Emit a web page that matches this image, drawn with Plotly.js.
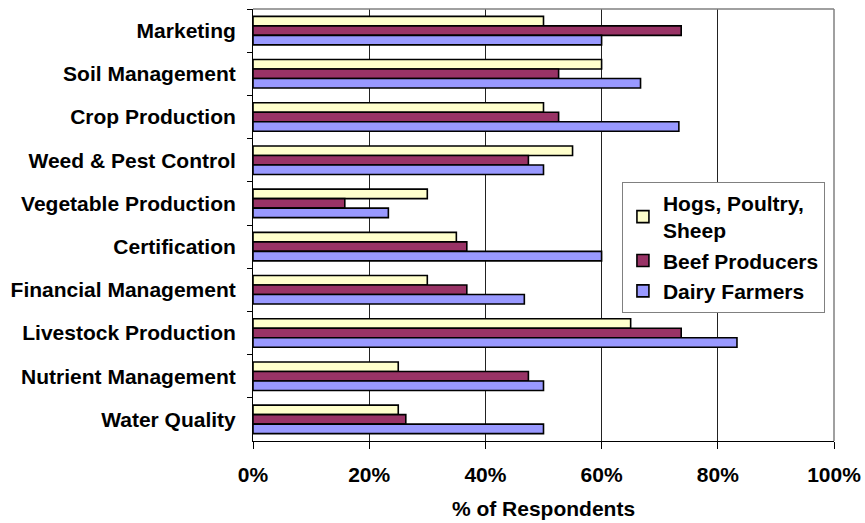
<!DOCTYPE html>
<html>
<head>
<meta charset="utf-8">
<script src="https://cdn.plot.ly/plotly-3.0.1.min.js"></script>
<style>html,body{margin:0;padding:0;background:#fff;}#chart{width:865px;height:523px;}</style>
</head>
<body>
<div id="chart"></div>
<script>
const categories = ["Marketing","Soil Management","Crop Production","Weed & Pest Control","Vegetable Production","Certification","Financial Management","Livestock Production","Nutrient Management","Water Quality"];
const seriesNames = ["Hogs, Poultry,<br>Sheep","Beef Producers","Dairy Farmers"];
const hogs  = [50, 60, 50, 55, 30, 35, 30, 65, 25, 25];
const beef  = [73.7, 52.6, 52.6, 47.4, 15.8, 36.8, 36.8, 73.7, 47.4, 26.3];
const dairy = [60, 66.7, 73.3, 50, 23.3, 60, 46.7, 83.3, 50, 50];
const xTicks = [0, 20, 40, 60, 80, 100];
const xTickText = ["0%","20%","40%","60%","80%","100%"];
const colors = ["#FFFFCC","#993366","#9999FF"];

const fam = "Liberation Sans, Arial, sans-serif";
const boldFont = {family: fam, size: 21, color: "#000", weight: "bold"};
const values = [hogs, beef, dairy];
const traces = values.map((v, i) => ({
  type: "bar", orientation: "h", name: seriesNames[i],
  x: v, y: categories,
  marker: {color: colors[i], line: {color: "#000", width: 1.6}},
  hoverinfo: "x+y"
}));

const layout = {
  width: 865, height: 523,
  margin: {l: 253, r: 31, t: 9, b: 82},
  paper_bgcolor: "#fff", plot_bgcolor: "#fff",
  font: {family: fam, size: 21, color: "#000"},
  barmode: "group", bargap: 0.34, bargroupgap: 0,
  showlegend: true,
  legend: {
    x: 0.635, y: 0.60, xanchor: "left", yanchor: "top",
    bgcolor: "#fff", bordercolor: "#808080", borderwidth: 1,
    font: boldFont, traceorder: "normal", itemwidth: 30
  },
  xaxis: {
    range: [0, 100], tickvals: xTicks, ticktext: xTickText,
    showgrid: true, gridcolor: "#222", gridwidth: 1,
    showline: true, linecolor: "#000", linewidth: 1,
    ticks: "outside", ticklen: 7, tickcolor: "#000",
    ticklabelstandoff: 8,
    tickfont: boldFont,
    zeroline: false, fixedrange: true,
    title: {text: "% of Respondents", standoff: 16, font: boldFont}
  },
  yaxis: {
    autorange: "reversed", type: "category",
    showgrid: false, showline: true, linecolor: "#000", linewidth: 1,
    ticks: "outside", tickson: "boundaries", ticklen: 5, tickcolor: "#000",
    ticklabelstandoff: 12,
    tickfont: boldFont,
    zeroline: false, fixedrange: true
  },
  shapes: [
    {type: "line", xref: "paper", yref: "paper", x0: 0, x1: 1, y0: 1, y1: 1, line: {color: "#808080", width: 1.5}, layer: "above"},
    {type: "line", xref: "paper", yref: "paper", x0: 1, x1: 1, y0: 0, y1: 1, line: {color: "#808080", width: 1.5}, layer: "above"}
  ]
};

Plotly.newPlot("chart", traces, layout, {displayModeBar: false, staticPlot: true});
</script>
</body>
</html>
